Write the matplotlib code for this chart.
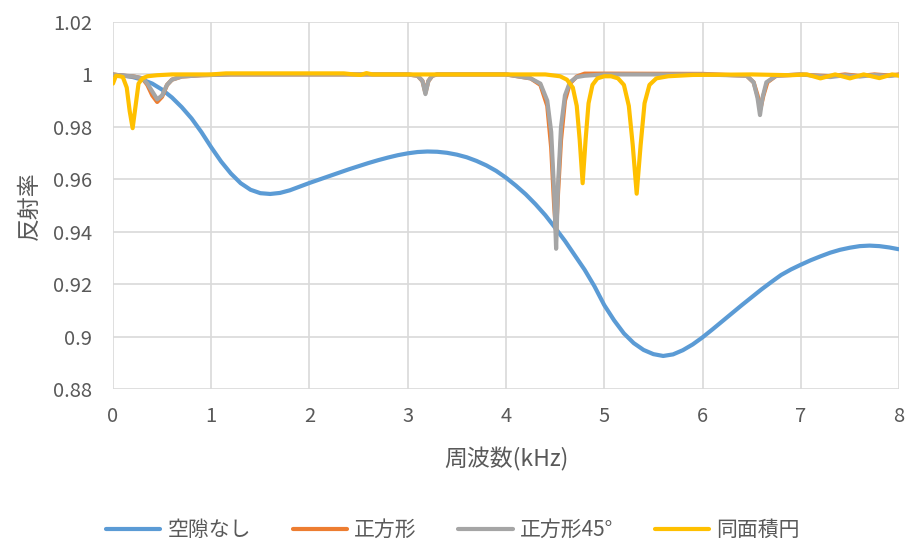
import matplotlib
matplotlib.use('Agg')
import matplotlib.pyplot as plt

plt.rcParams['font.family'] = ['Noto Sans CJK JP', 'DejaVu Sans']

# 空隙なし (smooth curve), read every 0.1 kHz
blue_x = [0.0, 0.1, 0.2, 0.3, 0.4, 0.5, 0.6, 0.7, 0.8, 0.9,
          1.0, 1.1, 1.2, 1.3, 1.4, 1.5, 1.6, 1.7, 1.8, 1.9,
          2.0, 2.1, 2.2, 2.3, 2.4, 2.5, 2.6, 2.7, 2.8, 2.9,
          3.0, 3.1, 3.2, 3.3, 3.4, 3.5, 3.6, 3.7, 3.8, 3.9,
          4.0, 4.1, 4.2, 4.3, 4.4, 4.5, 4.6, 4.7, 4.8, 4.9,
          5.0, 5.1, 5.2, 5.3, 5.4, 5.5, 5.6, 5.7, 5.8, 5.9,
          6.0, 6.1, 6.2, 6.3, 6.4, 6.5, 6.6, 6.7, 6.8, 6.9,
          7.0, 7.1, 7.2, 7.3, 7.4, 7.5, 7.6, 7.7, 7.8, 7.9, 8.0]
blue_y = [0.9998, 0.9996, 0.9990, 0.9980, 0.9965, 0.9942, 0.9912, 0.9875, 0.9832, 0.9780,
          0.9722, 0.9668, 0.9622, 0.9585, 0.9560, 0.9547, 0.9544, 0.9548, 0.9558, 0.9572,
          0.9586, 0.9599, 0.9612, 0.9625, 0.9638, 0.9650, 0.9662, 0.9673, 0.9683, 0.9692,
          0.9699, 0.9704, 0.9706, 0.9705, 0.9701, 0.9694, 0.9684, 0.9670, 0.9653, 0.9632,
          0.9606, 0.9576, 0.9543, 0.9505, 0.9463, 0.9415, 0.9365, 0.9310, 0.9255, 0.9192,
          0.9120, 0.9062, 0.9012, 0.8975, 0.8949, 0.8933, 0.8926, 0.8932, 0.8948, 0.8970,
          0.8997, 0.9027, 0.9058, 0.9089, 0.9120, 0.9150, 0.9180, 0.9208, 0.9235, 0.9256,
          0.9274, 0.9291, 0.9306, 0.9320, 0.9331, 0.9339, 0.9345, 0.9347, 0.9345, 0.9340, 0.9333]

# 正方形
orange_x = [0, 0.1, 0.2, 0.3, 0.35, 0.4, 0.45, 0.5, 0.55, 0.6, 0.7, 0.9, 1.2, 3.0,
            3.1, 3.15, 3.18, 3.21, 3.25, 3.3, 4.0, 4.25, 4.35, 4.42, 4.46, 4.49,
            4.51, 4.53, 4.56, 4.6, 4.65, 4.72, 4.8, 5.0, 6.0, 6.45, 6.52, 6.56,
            6.59, 6.62, 6.66, 6.75, 7.0, 7.15, 7.3, 7.45, 7.6, 7.75, 7.9, 8.0]
orange_y = [1.0, 0.9995, 0.9993, 0.9985, 0.996, 0.992, 0.9895, 0.9915, 0.996, 0.998,
            0.9992, 0.9997, 1.0, 1.0, 0.9995, 0.9975, 0.993, 0.9975, 0.9995, 1.0,
            1.0, 0.9985, 0.996, 0.988, 0.972, 0.950, 0.940, 0.955, 0.975, 0.990,
            0.9965, 0.9992, 1.0003, 1.0003, 1.0002, 0.9995, 0.997, 0.992, 0.987,
            0.992, 0.997, 0.9995, 1.0, 0.9996, 0.9993, 1.0, 0.9994, 1.0, 0.9996, 1.0]

# 正方形45°
gray_x = [0, 0.1, 0.2, 0.3, 0.35, 0.4, 0.45, 0.5, 0.55, 0.6, 0.7, 0.9, 1.2, 3.0,
          3.1, 3.15, 3.18, 3.21, 3.25, 3.3, 4.0, 4.25, 4.35, 4.42, 4.46, 4.49,
          4.51, 4.53, 4.56, 4.6, 4.65, 4.72, 4.8, 5.0, 6.0, 6.45, 6.52, 6.56,
          6.585, 6.61, 6.65, 6.75, 7.0, 7.15, 7.3, 7.45, 7.6, 7.75, 7.9, 8.0]
gray_y = [1.0, 0.9995, 0.9993, 0.9985, 0.9965, 0.9935, 0.9905, 0.992, 0.996, 0.998,
          0.9992, 0.9997, 1.0, 1.0, 0.9995, 0.9975, 0.9925, 0.9975, 0.9995, 1.0,
          1.0, 0.9985, 0.9965, 0.990, 0.978, 0.955, 0.9335, 0.958, 0.980, 0.992,
          0.997, 0.999, 0.9995, 1.0, 1.0, 0.9995, 0.997, 0.991, 0.9845, 0.991,
          0.997, 0.9995, 1.0, 0.9995, 0.9990, 0.9997, 0.9992, 0.9998, 0.9994, 0.9998]

# 同面積円
yellow_x = [0, 0.03, 0.07, 0.1, 0.14, 0.17, 0.2, 0.23, 0.26, 0.3, 0.35, 0.45, 0.6,
            1.0, 1.15, 2.35, 2.45, 2.52, 2.58, 2.64, 2.75, 3.0, 4.4, 4.55, 4.62,
            4.68, 4.72, 4.75, 4.78, 4.81, 4.84, 4.88, 4.93, 5.0, 5.07, 5.14, 5.2,
            5.25, 5.29, 5.33, 5.37, 5.41, 5.46, 5.53, 5.65, 5.9, 6.5, 6.9, 7.06,
            7.2, 7.35, 7.5, 7.64, 7.8, 7.93, 8.0]
yellow_y = [0.9965, 0.9995, 0.9993, 0.999, 0.995, 0.986, 0.9795, 0.988, 0.9965,
            0.9985, 0.9993, 0.9997, 1.0, 1.0, 1.0004, 1.0004, 1.0, 0.9998, 1.0005,
            1.0, 1.0, 1.0, 1.0, 0.9993, 0.998, 0.995, 0.988, 0.975, 0.9585, 0.975,
            0.989, 0.996, 0.9985, 0.9993, 0.9993, 0.9985, 0.996, 0.988, 0.973,
            0.9545, 0.973, 0.989, 0.996, 0.9985, 0.9993, 0.9998, 1.0, 0.9997,
            1.0, 0.9985, 1.0, 0.9985, 1.0, 0.9986, 1.0, 0.9995]

names = ['空隙なし', '正方形', '正方形45°', '同面積円']
colors = ['#5B9BD5', '#ED7D31', '#A5A5A5', '#FFC000']
xticks = [0, 1, 2, 3, 4, 5, 6, 7, 8]
yticks = [0.88, 0.9, 0.92, 0.94, 0.96, 0.98, 1.0, 1.02]
ytick_labels = ['0.88', '0.9', '0.92', '0.94', '0.96', '0.98', '1', '1.02']

text_col = '#595959'

fig = plt.figure(figsize=(9.06, 5.42), dpi=100)
ax = fig.add_axes([0.1247, 0.2823, 0.8676, 0.6771])

series = [(blue_x, blue_y), (orange_x, orange_y), (gray_x, gray_y), (yellow_x, yellow_y)]
for (xs, ys), name, c in zip(series, names, colors):
    ax.plot(xs, ys, color=c, lw=3.0, label=name, solid_joinstyle='round',
            solid_capstyle='round')

ax.set_xlim(0, 8)
ax.set_ylim(0.88, 1.02)
ax.set_xticks(xticks)
ax.set_yticks(yticks)
ax.set_yticklabels(ytick_labels)
ax.grid(True, color='#D9D9D9', lw=1.2)
ax.set_axisbelow(True)
for s in ax.spines.values():
    s.set_visible(False)
ax.tick_params(length=0, labelsize=14.5, colors=text_col)
ax.tick_params(axis='x', pad=12)
ax.tick_params(axis='y', pad=15)

ax.set_xlabel('周波数(kHz)', fontsize=16.5, color=text_col)
ax.xaxis.set_label_coords(0.5, -0.16)
ax.set_ylabel('反射率', fontsize=16.5, color=text_col)
ax.yaxis.set_label_coords(-0.092, 0.5)

fig.legend(loc='center', bbox_to_anchor=(0.5, 0.022), ncol=4, frameon=False,
           fontsize=15, handlelength=2.6, columnspacing=2.0, handletextpad=0.35,
           labelcolor=text_col)

fig.savefig('out.png', dpi=100)
